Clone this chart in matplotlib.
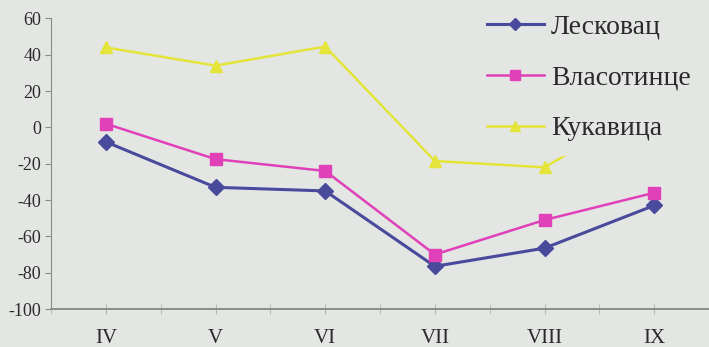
import matplotlib
matplotlib.use("Agg")
import matplotlib.pyplot as plt

# Months (Roman numerals) and values for each station
months = ["IV", "V", "VI", "VII", "VIII", "IX"]
leskovac = [-8, -33, -35, -76.5, -66.5, -43]
vlasotince = [2, -17.5, -24, -70, -51, -36]
kukavica = [44, 34, 44.5, -18.5, -22, 13]

series_names = ["Лесковац", "Власотинце", "Кукавица"]

bg = "#e3e6e3"
plt.rcParams["font.family"] = ["Liberation Serif", "DejaVu Serif"]
plt.rcParams["axes.unicode_minus"] = False

fig = plt.figure(figsize=(7.09, 3.47), dpi=100, facecolor=bg)
ax = fig.add_axes([0.072, 0.1095, 0.928, 0.8375], facecolor=bg)

x = list(range(len(months)))
ax.plot(x, leskovac, color="#4a4a9c", lw=2.2, marker="D", ms=8,
        label=series_names[0], zorder=3)
ax.plot(x, vlasotince, color="#e040b8", lw=1.8, marker="s", ms=9,
        label=series_names[1], zorder=3)
ax.plot(x, kukavica, color="#e4e43a", lw=1.8, marker="^", ms=9,
        label=series_names[2], zorder=3)

ax.set_xlim(-0.5, len(months) - 0.5)
ax.set_ylim(-100, 60)
ax.set_yticks(range(-100, 61, 20))

ax.set_xticks(x)
ax.set_xticklabels(months)
ax.set_xticks([i + 0.5 for i in range(-1, len(months))], minor=True)

for side in ("top", "right"):
    ax.spines[side].set_visible(False)
ax.spines["left"].set_color("#8a8c8a")
ax.spines["bottom"].set_color("#8a8c8a")
ax.spines["bottom"].set_linewidth(1.4)

ax.tick_params(axis="y", direction="out", length=4, color="#8a8c8a",
               labelsize=13, pad=3, labelcolor="#2a2a2a")
ax.tick_params(axis="x", which="both", direction="inout", length=7,
               color="#b5b7b5", labelsize=15, pad=11, labelcolor="#2a2a2a")

leg = ax.legend(loc="upper left", bbox_to_anchor=(473 / 709, 1.0),
                bbox_transform=fig.transFigure,
                frameon=True, fontsize=20, handlelength=2.05,
                labelspacing=0.92, handletextpad=0.25, borderpad=0.5,
                borderaxespad=0.0, markerscale=0.75)
leg.get_frame().set_facecolor(bg)
leg.get_frame().set_edgecolor(bg)
leg.get_frame().set_alpha(1.0)
leg.get_frame().set_boxstyle("square", pad=0)
leg.set_zorder(5)
for t in leg.get_texts():
    t.set_color("#2a2a2a")

fig.savefig("out.png", dpi=100, facecolor=bg)
